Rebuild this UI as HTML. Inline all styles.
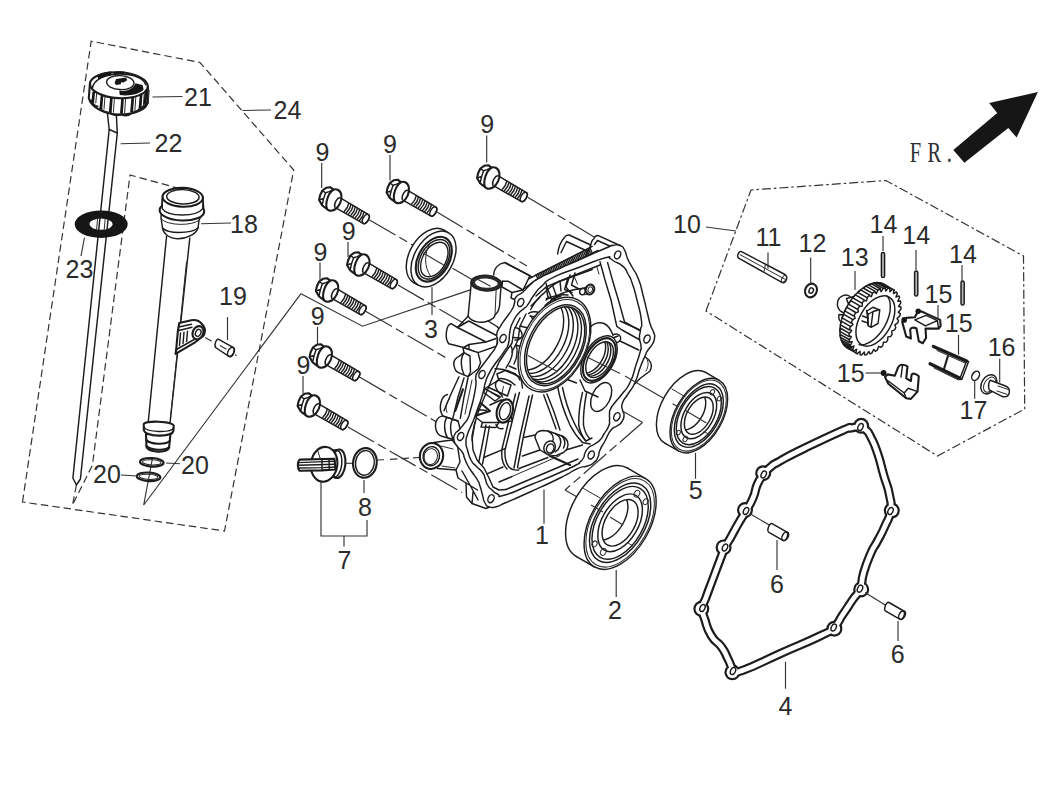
<!DOCTYPE html>
<html lang="en">
<head>
<meta charset="utf-8">
<title>Crankcase cover parts diagram</title>
<style>
html,body{margin:0;padding:0;background:#fff;}
body{width:1041px;height:791px;overflow:hidden;font-family:"Liberation Sans",sans-serif;}
svg{display:block;position:absolute;left:0;top:0;}
.p{fill:none;stroke:#1c1c1c;stroke-width:1.45;stroke-linecap:round;stroke-linejoin:round;}
.pw{fill:#fff;stroke:#1c1c1c;stroke-width:1.45;stroke-linecap:round;stroke-linejoin:round;}
.h{fill:none;stroke:#1c1c1c;stroke-width:2.1;stroke-linecap:round;stroke-linejoin:round;}
.hw{fill:#fff;stroke:#1c1c1c;stroke-width:2.1;stroke-linecap:round;stroke-linejoin:round;}
.f{fill:none;stroke:#2a2a2a;stroke-width:1.0;stroke-linecap:round;stroke-linejoin:round;}
.fw{fill:#fff;stroke:#2a2a2a;stroke-width:1.0;stroke-linecap:round;stroke-linejoin:round;}
.t{fill:none;stroke:#333;stroke-width:1.15;}
.d{fill:none;stroke:#333;stroke-width:1.2;stroke-dasharray:7.5 4;}
.dc{fill:none;stroke:#333;stroke-width:1.2;stroke-dasharray:30 4.5 9 4.5;}
.dd{fill:none;stroke:#333;stroke-width:1.2;stroke-dasharray:9 3 2.5 3;}
.k{fill:#161616;stroke:none;}
.w{fill:#fff;stroke:none;}
.n{font-family:"Liberation Sans",sans-serif;font-size:25px;fill:#2b2b2b;}
.fr{font-family:"Liberation Serif",serif;font-size:28.5px;fill:#2c2e36;}
</style>
</head>
<body>
<svg width="1041" height="791" viewBox="0 0 1041 791">
<path class="d" d="M22.5 502L91.2 41.2L200 62.5L293.7 170L224.5 531Z"/>
<path class="d" d="M180 188.7L130 175L92.4 465.2L72.6 504.7"/>
<path class="d" d="M76.4 485L72.6 504.7"/>
<path class="t" d="M152.5 458L143.7 505L301 293.7"/>
<path class="t" d="M301 293.7L362.5 326.2L471 289.6"/>
<path class="pw" d="M107.5 114L109.2 129.5L72.9 478L76.4 485L80.4 479L117.3 133L116.3 114"/>
<path class="p" d="M109.2 129.5L117.3 133"/>
<path class="k" fill-rule="evenodd" d="M74.7 224.2a26.5 13.7 0 1 0 53 0a26.5 13.7 0 1 0 -53 0ZM89.5 224.2a11.6 5.6 0 1 0 23.2 0a11.6 5.6 0 1 0 -23.2 0Z"/>
<path class="f" d="M105.2 219L104.2 229.5"/>
<path class="f" d="M97.5 219.5L96.6 229.5"/>
<path class="hw" d="M90 82.5 L88.8 98 C91 107.5 105 114.8 120.3 114.6 C134.5 114.3 146.5 109.5 147.6 102.5 L147.9 86.5"/>
<ellipse class="hw" cx="118.9" cy="85.2" rx="28.9" ry="12.9" transform="rotate(3 118.9 85.2)"/>
<path class="p" d="M92.5 87.5 C94 80 104 74.5 118 74 C133 73.6 144 78.5 145.5 84.5"/>
<path class="k" d="M92.5 91.5L95.1 91.8L94.0 103.7L91.2 103.3Z"/>
<path class="f" d="M96.8 92.3L95.8 103"/>
<path class="k" d="M100.7 95.6L103.3 95.9L102.2 109.8L99.4 109.4Z"/>
<path class="f" d="M105 96.4L104 109.1"/>
<path class="k" d="M110.1 97.6L112.7 97.9L111.6 113.0L108.8 112.6Z"/>
<path class="f" d="M114.4 98.4L113.4 112.3"/>
<path class="k" d="M121.3 98.0L123.9 98.3L122.8 114.0L120.0 113.6Z"/>
<path class="f" d="M125.6 98.8L124.6 113.3"/>
<path class="k" d="M131.5 96.6L134.1 96.9L133.0 112.4L130.2 112.0Z"/>
<path class="f" d="M135.8 97.4L134.8 111.7"/>
<path class="k" d="M139.9 93.6L142.5 93.9L141.4 108.8L138.6 108.4Z"/>
<path class="f" d="M144.2 94.4L143.2 108.1"/>
<path class="k" d="M144.9 89.5L147.5 89.8L146.4 104.2L143.6 103.8Z"/>
<path class="f" d="M149.2 90.3L148.2 103.5"/>
<path class="h" d="M91 100.5 C92.5 104.5 95.5 106 97.5 106.5 M100.3 108.5 C102 111 105.5 112 108 112.5 M110.5 113.3 C113 115.3 117.5 115.3 120 114.8 M122.3 114.8 C125 115.8 129 115 131 113.6 M133 112.8 C136 112 138.5 110.5 139.8 109 M141.5 107.8 C144 106.5 146 104.5 147 102.5"/>
<ellipse class="pw" cx="120.3" cy="82.6" rx="13.7" ry="7" transform="rotate(3 120.3 82.6)"/>
<path class="k" d="M114.6 82.8 L116.3 79 L126.2 77.6 L127.2 80.2 L123.5 82.4 L121.2 82.2 L120.7 84.2 L116 85Z"/>
<path class="k" d="M119.2 90.6 C126 92 133.5 89 135.5 83.2 L142.6 85 L143.6 89.5 C140 94.5 128 96.3 119.8 95Z"/>
<path class="k" d="M97.5 76.5 C101 73 108 71.2 112.3 71.6 L110.2 76 C106 76 101 77.5 98.5 79.5Z"/>
<path class="k" d="M113.4 71.8 C117 71 122.5 71 125 71.8 L123.5 74.2 C119.5 73.7 116 74 113.6 74.6Z"/>
<path class="pw" d="M166.6 236L148.2 422.5L170 423.5L189.8 238"/>
<path class="f" d="M186.5 262L170.8 415"/>
<path class="pw" d="M162.5 197.3 L161.4 210.7 L161 217.5 L162.5 228 C163 233 168 238 177.5 238.8 C187 239 196 234 198 228 L199 220.3 L203.8 210.7 L202.9 197.3Z"/>
<path class="p" d="M162.5 228 C168 234 190 234 198 228"/>
<path class="f" d="M161 219 C168 226 192 226 199 220.3"/>
<ellipse class="hw" cx="181.9" cy="210.9" rx="22.3" ry="9.6" transform="rotate(2 181.9 210.9)"/>
<path class="w" d="M162.2 198 L162.2 209 C168 217 196 217 202.8 209 L202.9 198Z"/>
<path class="p" d="M162.4 198 L162.2 208.6 C168 217.2 196 217.2 202.8 208.6 L202.9 198"/>
<ellipse class="hw" cx="182.7" cy="197.3" rx="20.2" ry="9.4" transform="rotate(2 182.7 197.3)"/>
<ellipse class="p" cx="182.9" cy="196.8" rx="16.2" ry="7.2" transform="rotate(2 182.9 196.8)"/>
<path class="hw" d="M179.3 323 L191.3 320.2 C196 319.5 200 321.5 201.9 324 C204.5 326.5 205.5 330 204.8 331.5 C204.3 335 203.3 336 202.4 336.5 L195.1 342.3 L175.5 353.8 L176.2 349.5 L177.9 330.7 L178.6 327Z"/>
<path class="p" d="M178.6 327 L191.5 324.3 M177.9 330.7 L192 327.2 M176.4 349.5 L194.2 339.5"/>
<path class="p" d="M180.5 333 L179.5 345.5 M184 332.2 L183 343.5 M187.5 331.3 L186.6 341.5"/>
<ellipse class="hw" cx="198" cy="332.7" rx="5.2" ry="6.8" transform="rotate(25 198 332.7)"/>
<ellipse class="p" cx="198.2" cy="332.9" rx="2.6" ry="3.6" transform="rotate(25 198.2 332.9)"/>
<path class="hw" d="M146 434 L146.5 447 C148 452.5 167 453.5 169 448 L170.5 434Z"/>
<path class="h" d="M146.3 440 C150 444.5 166 445 169.8 441"/>
<path class="h" d="M146.5 446 C150 450.5 166 451 169.3 447"/>
<path class="hw" d="M143.7 424.5 C143.7 420 173.7 421 173.7 426 L173.4 431 C172 437.5 146 437 143.9 430.5Z"/>
<path class="p" d="M143.9 427 C147 432.5 171 433 173.6 428"/>
<ellipse class="h" cx="151.8" cy="462.3" rx="11.8" ry="4.3" transform="rotate(3 151.8 462.3)"/>
<ellipse class="f" cx="151.8" cy="462.3" rx="9.3" ry="2.6" transform="rotate(3 151.8 462.3)"/>
<ellipse class="h" cx="148.6" cy="476.8" rx="11.8" ry="4.3" transform="rotate(3 148.6 476.8)"/>
<ellipse class="f" cx="148.6" cy="476.8" rx="9.3" ry="2.6" transform="rotate(3 148.6 476.8)"/>
<path class="d" d="M205.2 337.5L236.5 355.7"/>
<path class="pw" d="M218.7 339.4 L232.6 347.1 C236 349 233 357.5 229.3 356.7 L216.3 348 C213.5 346 216 338.5 218.7 339.4Z"/>
<ellipse class="p" cx="231" cy="351.8" rx="2.9" ry="4.9" transform="rotate(28 231 351.8)"/>
<path class="d" d="M220 345.5L229 350.6"/>
<path class="dc" d="M369.5 220L478 283"/>
<path class="dc" d="M437 212L527 266"/>
<path class="dc" d="M528 197.5L596 238"/>
<path class="dc" d="M398 285L470 327"/>
<path class="dc" d="M366 311.5L448 359"/>
<path class="dc" d="M359.5 377L440 424"/>
<path class="dc" d="M348 427L462 492.5"/>
<g transform="translate(0 0)"><path class="pw" d="M340.3 197.9L368.5 214.7C371 216.5 366.5 225 363.1 223.4L334.9 207.3Z"/><ellipse class="p" cx="365.8" cy="219" rx="2.8" ry="5" transform="rotate(30 365.8 219)"/><path class="p" d="M348.8 203.1C348.2 206.6 345.6 210.1 344.2 211.5M351.0 204.4C350.4 207.9 347.8 211.4 346.4 212.8M353.1 205.7C352.5 209.2 349.9 212.7 348.5 214.1M355.3 207.0C354.7 210.5 352.1 214.0 350.7 215.4M357.5 208.2C356.9 211.7 354.3 215.2 352.9 216.6M359.7 209.5C359.1 213.0 356.5 216.5 355.1 217.9M361.8 210.8C361.2 214.3 358.6 217.8 357.2 219.2M364.0 212.1C363.4 215.6 360.8 219.1 359.4 220.5"/><ellipse class="hw" cx="333.2" cy="200" rx="7.6" ry="11.3" transform="rotate(24 333.2 200)"/><path class="hw" d="M319.1 199.9L320.1 195.2L322.4 190.5L326.1 187.8L330.2 187.2L333.4 189.7C330 192 327.5 197 326.5 202C326 205 326.3 207 327 208.6L324.5 207.3L322.1 205.3Z"/><path class="p" d="M322.4 190.5L325.6 192.8L329.2 191.6L333.4 189.7M325.6 192.8L323.6 198.5L322.1 205.3M323.6 198.5L319.1 199.9"/><path class="p" d="M340.3 197.9C337.5 197 333.5 203.5 334.9 207.3"/></g>
<g transform="translate(67.5 -7.5)"><path class="pw" d="M340.3 197.9L368.5 214.7C371 216.5 366.5 225 363.1 223.4L334.9 207.3Z"/><ellipse class="p" cx="365.8" cy="219" rx="2.8" ry="5" transform="rotate(30 365.8 219)"/><path class="p" d="M348.8 203.1C348.2 206.6 345.6 210.1 344.2 211.5M351.0 204.4C350.4 207.9 347.8 211.4 346.4 212.8M353.1 205.7C352.5 209.2 349.9 212.7 348.5 214.1M355.3 207.0C354.7 210.5 352.1 214.0 350.7 215.4M357.5 208.2C356.9 211.7 354.3 215.2 352.9 216.6M359.7 209.5C359.1 213.0 356.5 216.5 355.1 217.9M361.8 210.8C361.2 214.3 358.6 217.8 357.2 219.2M364.0 212.1C363.4 215.6 360.8 219.1 359.4 220.5"/><ellipse class="hw" cx="333.2" cy="200" rx="7.6" ry="11.3" transform="rotate(24 333.2 200)"/><path class="hw" d="M319.1 199.9L320.1 195.2L322.4 190.5L326.1 187.8L330.2 187.2L333.4 189.7C330 192 327.5 197 326.5 202C326 205 326.3 207 327 208.6L324.5 207.3L322.1 205.3Z"/><path class="p" d="M322.4 190.5L325.6 192.8L329.2 191.6L333.4 189.7M325.6 192.8L323.6 198.5L322.1 205.3M323.6 198.5L319.1 199.9"/><path class="p" d="M340.3 197.9C337.5 197 333.5 203.5 334.9 207.3"/></g>
<g transform="translate(158 -22)"><path class="pw" d="M340.3 197.9L368.5 214.7C371 216.5 366.5 225 363.1 223.4L334.9 207.3Z"/><ellipse class="p" cx="365.8" cy="219" rx="2.8" ry="5" transform="rotate(30 365.8 219)"/><path class="p" d="M348.8 203.1C348.2 206.6 345.6 210.1 344.2 211.5M351.0 204.4C350.4 207.9 347.8 211.4 346.4 212.8M353.1 205.7C352.5 209.2 349.9 212.7 348.5 214.1M355.3 207.0C354.7 210.5 352.1 214.0 350.7 215.4M357.5 208.2C356.9 211.7 354.3 215.2 352.9 216.6M359.7 209.5C359.1 213.0 356.5 216.5 355.1 217.9M361.8 210.8C361.2 214.3 358.6 217.8 357.2 219.2M364.0 212.1C363.4 215.6 360.8 219.1 359.4 220.5"/><ellipse class="hw" cx="333.2" cy="200" rx="7.6" ry="11.3" transform="rotate(24 333.2 200)"/><path class="hw" d="M319.1 199.9L320.1 195.2L322.4 190.5L326.1 187.8L330.2 187.2L333.4 189.7C330 192 327.5 197 326.5 202C326 205 326.3 207 327 208.6L324.5 207.3L322.1 205.3Z"/><path class="p" d="M322.4 190.5L325.6 192.8L329.2 191.6L333.4 189.7M325.6 192.8L323.6 198.5L322.1 205.3M323.6 198.5L319.1 199.9"/><path class="p" d="M340.3 197.9C337.5 197 333.5 203.5 334.9 207.3"/></g>
<g transform="translate(28 65)"><path class="pw" d="M340.3 197.9L368.5 214.7C371 216.5 366.5 225 363.1 223.4L334.9 207.3Z"/><ellipse class="p" cx="365.8" cy="219" rx="2.8" ry="5" transform="rotate(30 365.8 219)"/><path class="p" d="M348.8 203.1C348.2 206.6 345.6 210.1 344.2 211.5M351.0 204.4C350.4 207.9 347.8 211.4 346.4 212.8M353.1 205.7C352.5 209.2 349.9 212.7 348.5 214.1M355.3 207.0C354.7 210.5 352.1 214.0 350.7 215.4M357.5 208.2C356.9 211.7 354.3 215.2 352.9 216.6M359.7 209.5C359.1 213.0 356.5 216.5 355.1 217.9M361.8 210.8C361.2 214.3 358.6 217.8 357.2 219.2M364.0 212.1C363.4 215.6 360.8 219.1 359.4 220.5"/><ellipse class="hw" cx="333.2" cy="200" rx="7.6" ry="11.3" transform="rotate(24 333.2 200)"/><path class="hw" d="M319.1 199.9L320.1 195.2L322.4 190.5L326.1 187.8L330.2 187.2L333.4 189.7C330 192 327.5 197 326.5 202C326 205 326.3 207 327 208.6L324.5 207.3L322.1 205.3Z"/><path class="p" d="M322.4 190.5L325.6 192.8L329.2 191.6L333.4 189.7M325.6 192.8L323.6 198.5L322.1 205.3M323.6 198.5L319.1 199.9"/><path class="p" d="M340.3 197.9C337.5 197 333.5 203.5 334.9 207.3"/></g>
<g transform="translate(-3.2 91)"><path class="pw" d="M340.3 197.9L368.5 214.7C371 216.5 366.5 225 363.1 223.4L334.9 207.3Z"/><ellipse class="p" cx="365.8" cy="219" rx="2.8" ry="5" transform="rotate(30 365.8 219)"/><path class="p" d="M348.8 203.1C348.2 206.6 345.6 210.1 344.2 211.5M351.0 204.4C350.4 207.9 347.8 211.4 346.4 212.8M353.1 205.7C352.5 209.2 349.9 212.7 348.5 214.1M355.3 207.0C354.7 210.5 352.1 214.0 350.7 215.4M357.5 208.2C356.9 211.7 354.3 215.2 352.9 216.6M359.7 209.5C359.1 213.0 356.5 216.5 355.1 217.9M361.8 210.8C361.2 214.3 358.6 217.8 357.2 219.2M364.0 212.1C363.4 215.6 360.8 219.1 359.4 220.5"/><ellipse class="hw" cx="333.2" cy="200" rx="7.6" ry="11.3" transform="rotate(24 333.2 200)"/><path class="hw" d="M319.1 199.9L320.1 195.2L322.4 190.5L326.1 187.8L330.2 187.2L333.4 189.7C330 192 327.5 197 326.5 202C326 205 326.3 207 327 208.6L324.5 207.3L322.1 205.3Z"/><path class="p" d="M322.4 190.5L325.6 192.8L329.2 191.6L333.4 189.7M325.6 192.8L323.6 198.5L322.1 205.3M323.6 198.5L319.1 199.9"/><path class="p" d="M340.3 197.9C337.5 197 333.5 203.5 334.9 207.3"/></g>
<g transform="translate(-9.5 157)"><path class="pw" d="M340.3 197.9L368.5 214.7C371 216.5 366.5 225 363.1 223.4L334.9 207.3Z"/><ellipse class="p" cx="365.8" cy="219" rx="2.8" ry="5" transform="rotate(30 365.8 219)"/><path class="p" d="M348.8 203.1C348.2 206.6 345.6 210.1 344.2 211.5M351.0 204.4C350.4 207.9 347.8 211.4 346.4 212.8M353.1 205.7C352.5 209.2 349.9 212.7 348.5 214.1M355.3 207.0C354.7 210.5 352.1 214.0 350.7 215.4M357.5 208.2C356.9 211.7 354.3 215.2 352.9 216.6M359.7 209.5C359.1 213.0 356.5 216.5 355.1 217.9M361.8 210.8C361.2 214.3 358.6 217.8 357.2 219.2M364.0 212.1C363.4 215.6 360.8 219.1 359.4 220.5"/><ellipse class="hw" cx="333.2" cy="200" rx="7.6" ry="11.3" transform="rotate(24 333.2 200)"/><path class="hw" d="M319.1 199.9L320.1 195.2L322.4 190.5L326.1 187.8L330.2 187.2L333.4 189.7C330 192 327.5 197 326.5 202C326 205 326.3 207 327 208.6L324.5 207.3L322.1 205.3Z"/><path class="p" d="M322.4 190.5L325.6 192.8L329.2 191.6L333.4 189.7M325.6 192.8L323.6 198.5L322.1 205.3M323.6 198.5L319.1 199.9"/><path class="p" d="M340.3 197.9C337.5 197 333.5 203.5 334.9 207.3"/></g>
<g transform="translate(-21.5 206)"><path class="pw" d="M340.3 197.9L368.5 214.7C371 216.5 366.5 225 363.1 223.4L334.9 207.3Z"/><ellipse class="p" cx="365.8" cy="219" rx="2.8" ry="5" transform="rotate(30 365.8 219)"/><path class="p" d="M348.8 203.1C348.2 206.6 345.6 210.1 344.2 211.5M351.0 204.4C350.4 207.9 347.8 211.4 346.4 212.8M353.1 205.7C352.5 209.2 349.9 212.7 348.5 214.1M355.3 207.0C354.7 210.5 352.1 214.0 350.7 215.4M357.5 208.2C356.9 211.7 354.3 215.2 352.9 216.6M359.7 209.5C359.1 213.0 356.5 216.5 355.1 217.9M361.8 210.8C361.2 214.3 358.6 217.8 357.2 219.2M364.0 212.1C363.4 215.6 360.8 219.1 359.4 220.5"/><ellipse class="hw" cx="333.2" cy="200" rx="7.6" ry="11.3" transform="rotate(24 333.2 200)"/><path class="hw" d="M319.1 199.9L320.1 195.2L322.4 190.5L326.1 187.8L330.2 187.2L333.4 189.7C330 192 327.5 197 326.5 202C326 205 326.3 207 327 208.6L324.5 207.3L322.1 205.3Z"/><path class="p" d="M322.4 190.5L325.6 192.8L329.2 191.6L333.4 189.7M325.6 192.8L323.6 198.5L322.1 205.3M323.6 198.5L319.1 199.9"/><path class="p" d="M340.3 197.9C337.5 197 333.5 203.5 334.9 207.3"/></g>
<ellipse class="pw" cx="428.8" cy="256.3" rx="19.3" ry="30.3" transform="rotate(30 428.8 256.3)"/>
<path class="p" d="M443.9 230.1L448.6 232.8"/>
<path class="p" d="M413.7 282.5L418.4 285.2"/>
<ellipse class="pw" cx="433.5" cy="259" rx="19.3" ry="30.3" transform="rotate(30 433.5 259)"/>
<ellipse class="h" cx="433.8" cy="259.2" rx="15.4" ry="24.2" transform="rotate(30 433.8 259.2)"/>
<ellipse class="p" cx="434" cy="259.3" rx="13.5" ry="21.5" transform="rotate(30 434 259.3)"/>
<ellipse class="p" cx="434.3" cy="259.5" rx="11.6" ry="18.8" transform="rotate(30 434.3 259.5)"/>
<path class="f" d="M430.0 243.5C424.0 253.0 424.0 267.0 430.5 276.0"/>
<path class="t" d="M423.5 253.2L444.5 265.4"/>
<ellipse class="hw" cx="338.2" cy="463.8" rx="7.2" ry="14.3" transform="rotate(6 338.2 463.8)"/>
<path class="p" d="M333 450 L338 449.6 M334 477.5 L338.5 478"/>
<ellipse class="p" cx="335.6" cy="463.8" rx="6.2" ry="13.4" transform="rotate(6 335.6 463.8)"/>
<ellipse class="hw" cx="324.1" cy="464.3" rx="13.2" ry="17.5" transform="rotate(8 324.1 464.3)"/>
<path class="f" d="M317.9 451.3 L320.7 460"/>
<path class="hw" d="M299.5 459.6 L334.5 458.8 L335.5 469.5 L322 470.4 L299.5 470.8 C297.3 468.5 297.3 462 299.5 459.6Z"/>
<path class="p" d="M299 462.6 L323 461.6 L335 461.2 M299 465.2 L335 464.2 M299 468 L323 467.6 L335 467"/>
<path class="p" d="M322 459 L322 470.4 M329 458.9 L329.3 470"/>
<path class="t" d="M345.7 463.3L353.4 463.3"/>
<ellipse class="h" cx="364.9" cy="462.9" rx="11.8" ry="14.9" transform="rotate(8 364.9 462.9)"/>
<ellipse class="p" cx="364.9" cy="462.9" rx="9.4" ry="12.4" transform="rotate(8 364.9 462.9)"/>
<path class="t" d="M377 460L384 459.8"/>
<path class="d" d="M390 459.4L420 457.5"/>
<path class="w" d="M514.5 303C515.8 298.8 513.2 300.7 516 297C518.8 293.3 518.3 296 523 292C527.7 288 524.9 289.4 530 285C535.1 280.6 530.7 283.2 538.4 278.7C546.1 274.2 539.1 277.9 553 271.5C566.9 265.1 562.3 267.3 580 259.5C597.7 251.7 595 252.7 606 248C617 243.3 608.3 246.3 613 245.5C617.7 244.7 616.2 244 620 245.5C623.8 247 622 245.6 624.5 250C627 254.4 625.1 253 627.6 258.7C630.1 264.4 628.4 260.3 632 267C635.6 273.7 634.6 269.4 638.3 278.7C642 288 639.9 283.2 643 295C646.1 306.8 645.1 304 647.6 314C650.1 324 648.5 318.8 650.5 325C652.5 331.2 652.4 328.2 653.7 332.5C655 336.8 655 334 654.5 338C654 342 654.4 340.5 652.2 344.5C650 348.5 650.4 346.2 648 350C645.6 353.8 647.7 350 645 356C642.3 362 643.3 359.2 640 368C636.7 376.8 639 373.8 635 382.5C631 391.2 632.2 387.2 628 394C623.8 400.8 624.3 397.7 622.5 403C620.7 408.3 622 406 622.5 410C623 414 624.2 411.2 624 415C623.8 418.8 624.3 417.8 622 421.5C619.7 425.2 620.7 423.2 617 426C613.3 428.8 615 425 611 430C607 435 608.7 434.3 605 441C601.3 447.7 602.3 444.7 600 450C597.7 455.3 600 452.8 598 457C596 461.2 597.5 459.5 594 462.5C590.5 465.5 593 463.9 587.5 466C582 468.1 586.7 464.7 577.5 468.7C568.3 472.7 575.8 470.2 560 478C544.2 485.8 548.3 483.7 530 492C511.7 500.3 516 498.2 505 503C494 507.8 502.2 505.2 497 506.5C491.8 507.8 493.5 508.2 489.5 507C485.5 505.8 487.3 507 485 503C482.7 499 484.2 500.7 482.5 495C480.8 489.3 481.7 491 480 486C478.3 481 480.2 484.7 477.5 480C474.8 475.3 475.3 477 472 472C468.7 467 470 469.7 467.5 465C465 460.3 466.2 462.2 464.5 458C462.8 453.8 465 456.5 462.5 452.5C460 448.5 459.8 450.2 457 446C454.2 441.8 454.7 444 454 440C453.3 436 453.3 437.3 455 434C456.7 430.7 456.2 433.2 459 430C461.8 426.8 460.5 428.4 463.5 424.5C466.5 420.6 465.6 423.2 467.9 418.4C470.2 413.6 468.8 415.9 470.5 410C472.2 404.1 471.5 407 473 400.7C474.5 394.4 474 396.9 475 391C476 385.1 475.7 387.7 476 383C476.3 378.3 475.1 380.8 475.8 377C476.5 373.2 475.1 376.3 478 371.6C480.9 366.9 480.1 368.7 484.4 362.8C488.7 356.9 487.1 359.4 491 354C494.9 348.6 493.8 351.2 496 346.5C498.2 341.8 497.2 344.2 497.5 340C497.8 335.8 496 338.3 496.8 334C497.6 329.7 496.9 332.3 500 327C503.1 321.7 502 323.8 506 318C510 312.2 509.2 314.5 512 309.5C514.8 304.5 513.2 307.2 514.5 303Z"/>
<path class="pw" d="M471.2 283.7L468.1 316.2C472 322.5 481.2 323.5 488 321C493 319 495 317 495 315C499 312 500 305 500 300L501.2 283.7Z"/>
<ellipse class="hw" cx="486.2" cy="283.1" rx="15" ry="7.5" transform="rotate(3 486.2 283.1)"/>
<ellipse cx="486.3" cy="283.2" rx="12.9" ry="6.1" transform="rotate(3 486.3 283.2)" fill="#fff" stroke="#2a2a2a" stroke-width="3"/>
<path class="t" d="M477.5 279.2L490.5 286.2"/>
<path class="f" d="M476.5 286.5C480 290 492 290.5 496.5 287"/>
<path class="f" d="M496.2 288.7L495 315"/>
<path class="p" d="M468.1 316.2L463.5 321L457.5 327.5"/>
<path class="p" d="M488 321L497 326.5L500 330"/>
<path class="pw" d="M493.7 275C494 268 498.7 263.5 505 262.5L530 275.6L523 290L508 281.2L502.5 281.2"/>
<path class="p" d="M502.5 281.2L502 287L512 292.5L523 290M512 292.5L511 298L517 300.5"/>
<path class="pw" d="M451 323.7C446 325 444.5 338 448.7 343.7L463.7 347.5L478 352.6L497 346L497.5 336L468.7 321L457.5 327.5Z"/>
<path class="p" d="M457.5 327.5L486 342M463.7 347.5L469 344.5M469 344.5L486 342L496 338.5M469 344.5L469 350"/>
<path class="pw" d="M462.9 347.6L478 352.6L480.6 362.8L478 369L468 376.7L464 352.6Z"/>
<path class="pw" d="M464 352.6L459 356.4C455 358 453 362 454 365.3C454.5 369 456.5 372 459 372.9L468 376.7L470.5 372L470 356Z"/>
<path class="p" d="M463.5 354C460.5 358 460.5 368 464 374.5"/>
<path class="p" d="M459 376.7L451 394L444 410.8M464 378L458 397L452.8 418.4M468 378L464 397L460.3 418.4"/>
<path class="h" d="M462.9 389.3L455.3 410.8"/>
<path class="f" d="M472 380L468.5 397L465 414"/>
<path class="p" d="M447.5 394.5C441 396 438 408 442.5 415.5"/>
<path class="f" d="M449.5 399C446 402 445 408 447 412.5"/>
<path class="pw" d="M442.6 415.9C438 416.5 435 421 435.5 427C436 432 438.5 435.5 442.5 436.5L456 440L461 432L458 421Z"/>
<path class="p" d="M442.6 415.9L458 421M447 417.5C444 421 443.5 431 447.5 437.8M452.5 419.3C450 423 449.8 432.5 453 439.2"/>
<path class="pw" d="M433.7 442.5L452 440L457.5 446L460 462L456 470L437.5 468.5Z"/>
<ellipse class="hw" cx="431.5" cy="456" rx="11.6" ry="13" transform="rotate(12 431.5 456)"/>
<ellipse class="p" cx="431.3" cy="456.2" rx="8.2" ry="9.6" transform="rotate(12 431.3 456.2)"/>
<ellipse class="f" cx="430.8" cy="456.6" rx="6.6" ry="8" transform="rotate(12 430.8 456.6)"/>
<path class="f" d="M441 446L453 449M442 466L455 468"/>
<path class="p" d="M456 470L458 478L466 483L466.5 497L472 503.5L486 508.5L489.5 507"/>
<path class="p" d="M466 483L477.5 490M472 503.5L473 492M462 471L470 485L478 500"/>
<path class="p" d="M643.7 356L648.5 359.5C652 363 652 368 650 371L640 378.5L635 383.7"/>
<path class="f" d="M646.5 358C649 362 648.5 367 646 371"/>
<path class="pw" d="M557.6 254C558.5 247 562 240 564.6 237.2C566 235 568 234.8 569.2 235L590.7 245L586 256"/>
<path class="p" d="M561 252.5L566.5 241.5L588 251.5"/>
<path class="pw" d="M590.7 245C591.5 241 592.5 239.5 593.8 238.8C595 236 597 235.4 598.4 235.7L620 245.5L612 250"/>
<path class="p" d="M594.5 244.5L597.5 240.5L613 247.5"/>
<path class="p" d="M506 263.4L532.3 277.2M529.2 278.7L592.2 246.4M523 289.5L535 280.5L598 250.5"/>
<path class="p" d="M536.0 274.6L537.9 278.8M537.6 273.8L539.5 278.0M539.3 273.0L541.2 277.2M540.9 272.2L542.8 276.4M542.5 271.4L544.4 275.6M544.2 270.6L546.1 274.8M545.8 269.8L547.7 274.0M547.5 269.0L549.4 273.2M549.1 268.2L551.0 272.4M550.7 267.3L552.6 271.5M552.4 266.5L554.3 270.7M554.0 265.7L555.9 269.9M555.6 264.9L557.5 269.1M557.3 264.1L559.2 268.3M558.9 263.3L560.8 267.5M560.5 262.5L562.4 266.7M562.2 261.7L564.1 265.9M563.8 260.9L565.7 265.1M565.5 260.1L567.4 264.3M567.1 259.3L569.0 263.5M568.7 258.5L570.6 262.7M570.4 257.7L572.3 261.9M572.0 256.9L573.9 261.1M573.6 256.1L575.5 260.3M575.3 255.3L577.2 259.5M576.9 254.4L578.8 258.6M578.5 253.6L580.4 257.8M580.2 252.8L582.1 257.0M581.8 252.0L583.7 256.2M583.5 251.2L585.4 255.4M585.1 250.4L587.0 254.6M586.7 249.6L588.6 253.8M588.4 248.8L590.3 253.0M590.0 248.0L591.9 252.2"/>
<path class="pw" fill-rule="evenodd" d="M514.5 303C515.8 298.8 513.2 300.7 516 297C518.8 293.3 518.3 296 523 292C527.7 288 524.9 289.4 530 285C535.1 280.6 530.7 283.2 538.4 278.7C546.1 274.2 539.1 277.9 553 271.5C566.9 265.1 562.3 267.3 580 259.5C597.7 251.7 595 252.7 606 248C617 243.3 608.3 246.3 613 245.5C617.7 244.7 616.2 244 620 245.5C623.8 247 622 245.6 624.5 250C627 254.4 625.1 253 627.6 258.7C630.1 264.4 628.4 260.3 632 267C635.6 273.7 634.6 269.4 638.3 278.7C642 288 639.9 283.2 643 295C646.1 306.8 645.1 304 647.6 314C650.1 324 648.5 318.8 650.5 325C652.5 331.2 652.4 328.2 653.7 332.5C655 336.8 655 334 654.5 338C654 342 654.4 340.5 652.2 344.5C650 348.5 650.4 346.2 648 350C645.6 353.8 647.7 350 645 356C642.3 362 643.3 359.2 640 368C636.7 376.8 639 373.8 635 382.5C631 391.2 632.2 387.2 628 394C623.8 400.8 624.3 397.7 622.5 403C620.7 408.3 622 406 622.5 410C623 414 624.2 411.2 624 415C623.8 418.8 624.3 417.8 622 421.5C619.7 425.2 620.7 423.2 617 426C613.3 428.8 615 425 611 430C607 435 608.7 434.3 605 441C601.3 447.7 602.3 444.7 600 450C597.7 455.3 600 452.8 598 457C596 461.2 597.5 459.5 594 462.5C590.5 465.5 593 463.9 587.5 466C582 468.1 586.7 464.7 577.5 468.7C568.3 472.7 575.8 470.2 560 478C544.2 485.8 548.3 483.7 530 492C511.7 500.3 516 498.2 505 503C494 507.8 502.2 505.2 497 506.5C491.8 507.8 493.5 508.2 489.5 507C485.5 505.8 487.3 507 485 503C482.7 499 484.2 500.7 482.5 495C480.8 489.3 481.7 491 480 486C478.3 481 480.2 484.7 477.5 480C474.8 475.3 475.3 477 472 472C468.7 467 470 469.7 467.5 465C465 460.3 466.2 462.2 464.5 458C462.8 453.8 465 456.5 462.5 452.5C460 448.5 459.8 450.2 457 446C454.2 441.8 454.7 444 454 440C453.3 436 453.3 437.3 455 434C456.7 430.7 456.2 433.2 459 430C461.8 426.8 460.5 428.4 463.5 424.5C466.5 420.6 465.6 423.2 467.9 418.4C470.2 413.6 468.8 415.9 470.5 410C472.2 404.1 471.5 407 473 400.7C474.5 394.4 474 396.9 475 391C476 385.1 475.7 387.7 476 383C476.3 378.3 475.1 380.8 475.8 377C476.5 373.2 475.1 376.3 478 371.6C480.9 366.9 480.1 368.7 484.4 362.8C488.7 356.9 487.1 359.4 491 354C494.9 348.6 493.8 351.2 496 346.5C498.2 341.8 497.2 344.2 497.5 340C497.8 335.8 496 338.3 496.8 334C497.6 329.7 496.9 332.3 500 327C503.1 321.7 502 323.8 506 318C510 312.2 509.2 314.5 512 309.5C514.8 304.5 513.2 307.2 514.5 303Z M527.7 304.9C531 300.4 529.4 301.2 534 295C538.6 288.8 534.9 292.3 541.5 286.4C548.1 280.5 541 283.7 553.8 277.2C566.6 270.7 563.1 273.4 580 267C596.9 260.6 594.5 260.8 604.5 258C614.5 255.2 606.9 257.5 610 258.5C613.1 259.5 609.4 258.4 613.7 261C618 263.6 618.2 262.1 623 266.4C627.8 270.7 624.9 268.4 628 274C631.1 279.6 629.2 274.6 632.2 283.3C635.2 292 633.9 287.7 637 300C640.1 312.3 640.2 310.2 641.4 320.2C642.6 330.2 641.1 324.1 640.5 330C639.9 335.9 639.3 332.7 639.5 338C639.7 343.3 640.8 341.2 641 346C641.2 350.8 641.7 346.2 640 352.5C638.3 358.8 639.3 355 636 365C632.7 375 634.7 372.8 630 382.5C625.3 392.2 627 387.3 622 394C617 400.7 618.8 397.5 615 402.5C611.2 407.5 612.3 405.2 610.5 409C608.7 412.8 609.8 410.3 609.5 414C609.2 417.7 609.8 416 609.5 420C609.2 424 610.5 421.3 608.7 426C606.9 430.7 606.9 429.3 604 434C601.1 438.7 603.3 436.5 600 440C596.7 443.5 597.8 442 594 444.5C590.2 447 591.7 444.7 588.7 447.5C585.7 450.3 586.7 449.7 585 453C583.3 456.3 585.4 454.5 583.7 457.5C582 460.5 582.6 459.5 580 462C577.4 464.5 582.7 461.5 576 465C569.3 468.5 575.3 465.8 560 472.5C544.7 479.2 548.3 477.5 530 485C511.7 492.5 515.8 492 505 495C494.2 498 501.8 495.7 497.5 494C493.2 492.3 495.3 493 492 490C488.7 487 489.8 489 487.5 485C485.2 481 486.7 482.2 485 478C483.3 473.8 485.5 476.5 482.5 472.5C479.5 468.5 479.8 470.2 476 466C472.2 461.8 473.8 465.3 471 460C468.2 454.7 469.2 455.8 467.5 450C465.8 444.2 466.1 447.5 466 442.5C465.9 437.5 465.8 440.2 467.3 435C468.8 429.8 468.2 432.5 470.5 427C472.8 421.5 471.9 424.4 474.2 418.4C476.5 412.4 475.4 414.9 477.5 409C479.6 403.1 478.6 406.7 480.6 400.7C482.6 394.7 481.8 397.3 483.5 391C485.2 384.7 483.6 387.7 485.6 381.7C487.6 375.7 486.3 378.8 489.4 372.9C492.5 367 491.2 369.5 495 364C498.8 358.5 497.5 361.1 500.8 356.4C504.1 351.7 502.5 354.2 505 350C507.5 345.8 506.7 350.1 508.4 343.8C510.1 337.5 508.5 338.3 510 331C511.5 323.7 510.3 327.7 513 322C515.7 316.3 514.3 318.5 518 314C521.7 309.5 520.8 311.5 524 308.5C527.2 305.5 524.4 309.4 527.7 304.9Z"/>
<ellipse class="p" cx="520.7" cy="302.5" rx="2.9" ry="4.2" transform="rotate(25 520.7 302.5)"/>
<ellipse class="p" cx="503" cy="338.5" rx="2.9" ry="4.2" transform="rotate(25 503 338.5)"/>
<ellipse class="p" cx="482" cy="374.5" rx="2.9" ry="4.2" transform="rotate(25 482 374.5)"/>
<ellipse class="p" cx="460.6" cy="436.5" rx="2.9" ry="4.2" transform="rotate(25 460.6 436.5)"/>
<ellipse class="p" cx="491" cy="498.7" rx="2.9" ry="4.2" transform="rotate(25 491 498.7)"/>
<ellipse class="p" cx="591.2" cy="455" rx="2.9" ry="4.2" transform="rotate(25 591.2 455)"/>
<ellipse class="p" cx="616.9" cy="416.7" rx="2.9" ry="4.2" transform="rotate(25 616.9 416.7)"/>
<ellipse class="p" cx="647" cy="339" rx="2.9" ry="4.2" transform="rotate(25 647 339)"/>
<ellipse class="p" cx="617.6" cy="254.9" rx="2.9" ry="4.2" transform="rotate(25 617.6 254.9)"/>
<clipPath id="cin"><path d="M527.7 304.9C531 300.4 529.4 301.2 534 295C538.6 288.8 534.9 292.3 541.5 286.4C548.1 280.5 541 283.7 553.8 277.2C566.6 270.7 563.1 273.4 580 267C596.9 260.6 594.5 260.8 604.5 258C614.5 255.2 606.9 257.5 610 258.5C613.1 259.5 609.4 258.4 613.7 261C618 263.6 618.2 262.1 623 266.4C627.8 270.7 624.9 268.4 628 274C631.1 279.6 629.2 274.6 632.2 283.3C635.2 292 633.9 287.7 637 300C640.1 312.3 640.2 310.2 641.4 320.2C642.6 330.2 641.1 324.1 640.5 330C639.9 335.9 639.3 332.7 639.5 338C639.7 343.3 640.8 341.2 641 346C641.2 350.8 641.7 346.2 640 352.5C638.3 358.8 639.3 355 636 365C632.7 375 634.7 372.8 630 382.5C625.3 392.2 627 387.3 622 394C617 400.7 618.8 397.5 615 402.5C611.2 407.5 612.3 405.2 610.5 409C608.7 412.8 609.8 410.3 609.5 414C609.2 417.7 609.8 416 609.5 420C609.2 424 610.5 421.3 608.7 426C606.9 430.7 606.9 429.3 604 434C601.1 438.7 603.3 436.5 600 440C596.7 443.5 597.8 442 594 444.5C590.2 447 591.7 444.7 588.7 447.5C585.7 450.3 586.7 449.7 585 453C583.3 456.3 585.4 454.5 583.7 457.5C582 460.5 582.6 459.5 580 462C577.4 464.5 582.7 461.5 576 465C569.3 468.5 575.3 465.8 560 472.5C544.7 479.2 548.3 477.5 530 485C511.7 492.5 515.8 492 505 495C494.2 498 501.8 495.7 497.5 494C493.2 492.3 495.3 493 492 490C488.7 487 489.8 489 487.5 485C485.2 481 486.7 482.2 485 478C483.3 473.8 485.5 476.5 482.5 472.5C479.5 468.5 479.8 470.2 476 466C472.2 461.8 473.8 465.3 471 460C468.2 454.7 469.2 455.8 467.5 450C465.8 444.2 466.1 447.5 466 442.5C465.9 437.5 465.8 440.2 467.3 435C468.8 429.8 468.2 432.5 470.5 427C472.8 421.5 471.9 424.4 474.2 418.4C476.5 412.4 475.4 414.9 477.5 409C479.6 403.1 478.6 406.7 480.6 400.7C482.6 394.7 481.8 397.3 483.5 391C485.2 384.7 483.6 387.7 485.6 381.7C487.6 375.7 486.3 378.8 489.4 372.9C492.5 367 491.2 369.5 495 364C498.8 358.5 497.5 361.1 500.8 356.4C504.1 351.7 502.5 354.2 505 350C507.5 345.8 506.7 350.1 508.4 343.8C510.1 337.5 508.5 338.3 510 331C511.5 323.7 510.3 327.7 513 322C515.7 316.3 514.3 318.5 518 314C521.7 309.5 520.8 311.5 524 308.5C527.2 305.5 524.4 309.4 527.7 304.9Z"/></clipPath>
<g clip-path="url(#cin)">
<path class="p" d="M600 261.8L605 280L611 300L616.8 326.4M607.6 262.6L613 282L619 302L624.5 321.8L643 332.5M616.8 326.4L622 330L640 340"/>
<path class="p" d="M620 321L640 330M620 341L638.7 350"/>
<path class="p" d="M530.7 309.5C535 301 540 296 544.6 292.6C549 288 553 284.5 558.4 281.8L592.2 269.5"/>
<path class="p" d="M546 283.5L548.5 291L551 297L546.5 298.5M567.6 278.7L564.6 289.5L572.2 292.6M553 286.5L556.5 296"/>
<path class="p" d="M550.7 300.2C558 294 570 289.5 586 288M545 305.5C551 300 556 297.5 561 296"/>
<path class="f" d="M574 276L577.5 284M597 267.5L599 274"/>
<path class="p" d="M536 296L546 287L560 281L600 265M531 306L540 297M546 287L548 297L556 300M560 281L561 291"/>
<path class="p" d="M520 318L514 330L512 343L505 353L499 362L494 374L489 386L484 398L479 410L474.5 424L472 436L473 450L477 460L484 468L489 478L493 487L499 490L506 489.5"/>
<path class="p" d="M526 314L520 326L518 340L512 352M516 345L524 348L527 343M520 326L528 328L534 322L531 316"/>
<path class="p" d="M483.7 457.5L505 448.7M523.7 437.5L535 435M522.5 456L540 450M557.5 452.5L582.5 445M487.5 473.7L503 467M519 468.5L548 457.5M506 489.5L578 459M499 482L512 476.5"/>
<path class="h" d="M550 456L570 465"/>
<path class="f" d="M512 476.5L560 455.5"/>
<path class="p" d="M519.4 392.5L512 422L505 450C504.5 458 506 463 508.5 466.5C511 469.5 515 470.5 518.7 470"/>
<path class="p" d="M515.5 394L508.5 422L502 449C501 458 503 465 507 469"/>
<path class="p" d="M532.5 395L523.7 435L517.5 467.5M529 396L520.5 434L514 468"/>
<path class="p" d="M543.7 395L550 412L556 428.7M547 394L554 412L560 430"/>
<path class="p" d="M557.5 386C560 400 565 414 570 425C574 433 578 438 582.5 442.5M562.5 387.5C565 400 569 412 574 422.5C578 431 582 437 586 441"/>
<path class="p" d="M582.5 392.5C580 403 578.5 414 578.7 425C580 432 582 436 585 440M586.5 393C584.5 404 583 415 583.5 425C584.5 431 586.5 435 589.5 438.5"/>
<path class="p" d="M582.5 442.5L590 444M586 441L592 438"/>
<path class="p" d="M486 425L482 446L478.7 462.5M489.5 426L486 446L482.5 464M475 422.5L472 440"/>
<path class="pw" d="M535 437.5C535.5 432.5 539 430.5 543 430.5L548 431L562 436C567.5 438.5 569.5 444 567 449L563.5 452.5L556.5 455.5L550 456L540 450Z"/>
<path class="p" d="M548 431C552.5 433.5 554.5 438 552.5 442.5M555.5 433.6C560 436.5 562 441 560 446C559 449 557 451 555 452M562 436C565 439.5 565.5 444 563.5 448"/>
<ellipse class="pw" cx="549.6" cy="447.6" rx="5.6" ry="6.8" transform="rotate(22 549.6 447.6)"/>
<ellipse class="p" cx="550.2" cy="448.4" rx="3.6" ry="4.6" transform="rotate(22 550.2 448.4)"/>
<path class="pw" d="M490 405L501 400L510 400.5L512 421L498.7 422.5L482.5 422.5L476 417.5"/>
<path class="h" d="M480 402.5L490 411L475 416Z"/>
<path class="p" d="M477 409.5L486.5 410.5M482.5 422.5L481 427L496 427.5L498.7 422.5"/>
<ellipse class="hw" cx="504.8" cy="411" rx="7.8" ry="11.9" transform="rotate(16 504.8 411)"/>
<ellipse class="p" cx="505" cy="411.2" rx="5.2" ry="8.8" transform="rotate(16 505 411.2)"/>
<path class="p" d="M496 424.5C497 428 500 429.5 503 428.5"/>
<path class="p" d="M485 388.5L498.7 380L511 385L507.5 396L488.7 387.5M498.7 380L497 374L505 370.5L514 374"/>
<path class="f" d="M491 392L503 397.5M503.5 386.5L502 393"/>
<path class="p" d="M514 374L521 378L522.5 388M509 366L516 369"/>
<path class="p" d="M495 368.7C500 368.5 508 370 515 373.7C518 376 519.5 378 520 380M498.7 378.7C503 378 509 379.5 515 385"/>
<path class="p" d="M498.7 380C495.5 381.5 495 385 496 388C497.5 391.5 500 394 502.5 396"/>
<path class="p" d="M485 388.7L500 397.5L495 401L483.7 392.5Z"/>
<path class="p" d="M515 327.5C518.5 328 521 330 522 333.5C523 337 520 340.5 515 340M512.5 337.5L521 338"/>
<path class="p" d="M511 346C513 350 512.5 356 510 361L506 368M516 345C518 351 517 358 514 364"/>
<ellipse class="p" cx="601.2" cy="397" rx="9" ry="15.5" transform="rotate(26 601.2 397)"/>
<path class="p" d="M530 316C535 317.5 538 316 539.5 313C536 311 531 311.5 528.5 313.5"/>
<ellipse class="hw" cx="590" cy="289.5" rx="4.2" ry="5" transform="rotate(20 590 289.5)"/>
<ellipse class="f" cx="590.3" cy="289.7" rx="2.2" ry="2.9" transform="rotate(20 590.3 289.7)"/>
<ellipse class="p" cx="582.5" cy="291.5" rx="2.7" ry="3.3" transform="rotate(20 582.5 291.5)"/>
<path class="f" d="M583 288.5L589 285M584 294.7L590 294.4"/>
<path class="p" d="M570 275L566 287L573 296M575 273L571.5 285L579 289"/>
<path class="p" d="M546 300C551 296 560 294 568 295"/>
<path class="p" d="M588 332C590 325 597 321 604 323.5C609 325.5 611 330 613 335"/>
<path class="p" d="M613 335C616 333 619.5 334 620.5 337C621.5 340 619 343 615.5 342.5M611.5 338.5L618 336"/>
<ellipse class="pw" cx="599" cy="359.3" rx="14.9" ry="25.8" transform="rotate(30 599 359.3)"/>
<ellipse class="h" cx="599.3" cy="359.5" rx="13.4" ry="23.3" transform="rotate(30 599.3 359.5)"/>
<ellipse class="p" cx="599.6" cy="359.7" rx="11.3" ry="19.6" transform="rotate(30 599.6 359.7)"/>
<clipPath id="sb"><ellipse cx="599.6" cy="359.7" rx="11.3" ry="19.6" transform="rotate(30 599.6 359.7)"/></clipPath>
<g clip-path="url(#sb)">
<ellipse class="p" cx="597" cy="358.2" rx="11.3" ry="19.6" transform="rotate(30 597 358.2)"/>
<ellipse class="p" cx="594.4" cy="356.7" rx="11.3" ry="19.6" transform="rotate(30 594.4 356.7)"/>
<ellipse class="p" cx="591.8" cy="355.2" rx="11.3" ry="19.6" transform="rotate(30 591.8 355.2)"/>
</g>
<path class="p" d="M580 380L585 391L598 397M576.5 383L566 379"/>
<ellipse class="pw" cx="554.4" cy="344.6" rx="31.8" ry="50.5" transform="rotate(27 554.4 344.6)"/>
<ellipse class="f" cx="554.8" cy="344.8" rx="30.4" ry="48.3" transform="rotate(27 554.8 344.8)"/>
<ellipse class="p" cx="555.4" cy="345.2" rx="26.8" ry="43.2" transform="rotate(27 555.4 345.2)"/>
<ellipse class="p" cx="555.6" cy="345.3" rx="25.1" ry="41.2" transform="rotate(27 555.6 345.3)"/>
<clipPath id="mb"><ellipse cx="555.6" cy="345.3" rx="25.1" ry="41.2" transform="rotate(27 555.6 345.3)"/></clipPath>
<g clip-path="url(#mb)">
<ellipse class="p" cx="552.3" cy="343.4" rx="25.1" ry="41.2" transform="rotate(27 552.3 343.4)"/>
<ellipse class="p" cx="549" cy="341.5" rx="24.9" ry="40.8" transform="rotate(27 549 341.5)"/>
<ellipse class="p" cx="545" cy="339.2" rx="24.4" ry="40" transform="rotate(27 545 339.2)"/>
<ellipse class="p" cx="541.1" cy="336.9" rx="23.9" ry="39.1" transform="rotate(27 541.1 336.9)"/>
<ellipse class="p" cx="536.5" cy="334.3" rx="23.4" ry="38.3" transform="rotate(27 536.5 334.3)"/>
</g>
</g>
<path class="t" d="M527.8 355.5L557.3 371.5"/>
<path class="t" d="M585.4 356.3L620 373.5"/>
<path class="t" d="M625 376L667.5 400.5"/>
<path class="t" d="M622.5 411L642.5 422.5"/>
<path class="dc" d="M642.5 422.5L565 490"/>
<path class="t" d="M565 490L591 505"/>
<ellipse class="pw" cx="685.2" cy="407.8" rx="23.5" ry="40.8" transform="rotate(30 685.2 407.8)"/>
<path class="w" d="M705.6 372.4L719.2 380.3L678.4 450.9L664.8 443.1Z"/>
<path class="p" d="M705.6 372.4L719.2 380.3"/>
<path class="p" d="M664.8 443.1L678.4 450.9"/>
<ellipse class="pw" cx="698.8" cy="415.6" rx="23.5" ry="40.8" transform="rotate(30 698.8 415.6)"/>
<ellipse class="f" cx="698.8" cy="415.6" rx="22.4" ry="38.8" transform="rotate(30 698.8 415.6)"/>
<ellipse class="p" cx="698.8" cy="415.6" rx="20" ry="34.7" transform="rotate(30 698.8 415.6)"/>
<ellipse class="p" cx="698.8" cy="415.6" rx="18.4" ry="31.8" transform="rotate(30 698.8 415.6)"/>
<ellipse class="p" cx="698.8" cy="415.6" rx="14.6" ry="25.3" transform="rotate(30 698.8 415.6)"/>
<ellipse class="p" cx="698.8" cy="415.6" rx="11.8" ry="20.4" transform="rotate(30 698.8 415.6)"/>
<clipPath id="bc698"><ellipse cx="698.8" cy="415.6" rx="11.8" ry="20.4" transform="rotate(30 698.8 415.6)"/></clipPath>
<g clip-path="url(#bc698)"><ellipse class="p" cx="691.3" cy="411.3" rx="11.8" ry="20.4" transform="rotate(30 691.3 411.3)"/></g>
<ellipse class="f" cx="712.3" cy="392.3" rx="2" ry="2.9" transform="rotate(30 712.3 392.3)"/>
<ellipse class="f" cx="719.2" cy="398.7" rx="1.8" ry="2.4" transform="rotate(30 719.2 398.7)"/>
<ellipse class="f" cx="685.3" cy="438.9" rx="2" ry="2.9" transform="rotate(30 685.3 438.9)"/>
<ellipse class="f" cx="678.4" cy="432.5" rx="1.8" ry="2.4" transform="rotate(30 678.4 432.5)"/>
<path class="f" d="M672 389L685 396.7"/>
<path class="t" d="M672.6 403.7L677.5 406.5"/>
<path class="t" d="M685.5 410.5L706.4 423"/>
<path class="f" d="M704 431.5L709.5 434.7"/>
<ellipse class="pw" cx="601.6" cy="512.1" rx="29.4" ry="51" transform="rotate(30 601.6 512.1)"/>
<path class="w" d="M627.1 467.9L645.6 478.6L594.6 567L576.1 556.3Z"/>
<path class="p" d="M627.1 467.9L645.6 478.6"/>
<path class="p" d="M576.1 556.3L594.6 567"/>
<ellipse class="pw" cx="620.1" cy="522.8" rx="29.4" ry="51" transform="rotate(30 620.1 522.8)"/>
<ellipse class="f" cx="620.1" cy="522.8" rx="28" ry="48.4" transform="rotate(30 620.1 522.8)"/>
<ellipse class="p" cx="620.1" cy="522.8" rx="25" ry="43.4" transform="rotate(30 620.1 522.8)"/>
<ellipse class="p" cx="620.1" cy="522.8" rx="23" ry="39.8" transform="rotate(30 620.1 522.8)"/>
<ellipse class="p" cx="620.1" cy="522.8" rx="18.2" ry="31.6" transform="rotate(30 620.1 522.8)"/>
<ellipse class="p" cx="620.1" cy="522.8" rx="14.7" ry="25.5" transform="rotate(30 620.1 522.8)"/>
<clipPath id="bc620"><ellipse cx="620.1" cy="522.8" rx="14.7" ry="25.5" transform="rotate(30 620.1 522.8)"/></clipPath>
<g clip-path="url(#bc620)"><ellipse class="p" cx="609.9" cy="516.9" rx="14.7" ry="25.5" transform="rotate(30 609.9 516.9)"/></g>
<ellipse class="f" cx="636.9" cy="493.7" rx="2.6" ry="3.6" transform="rotate(30 636.9 493.7)"/>
<ellipse class="f" cx="645.6" cy="501.7" rx="2.3" ry="3.1" transform="rotate(30 645.6 501.7)"/>
<ellipse class="f" cx="603.3" cy="551.9" rx="2.6" ry="3.6" transform="rotate(30 603.3 551.9)"/>
<ellipse class="f" cx="594.6" cy="543.9" rx="2.3" ry="3.1" transform="rotate(30 594.6 543.9)"/>
<path class="f" d="M583.5 488.5L600 498"/>
<path class="t" d="M591 505L603 512"/>
<path class="t" d="M610 517L623 525"/>
<path class="f" d="M628 543L633 546"/>
<path d="M860.5 427C856 426.4 856.4 426.9 851 428C845.6 429.1 856.3 424.5 842.5 430.5C828.7 436.5 823.8 438.9 805 448C786.2 457.1 790.5 455.1 780 461C769.5 466.9 774.9 463.4 770 467.5C765.1 471.6 767.5 469.6 763.7 474.5C760 479.4 760.7 476.9 757.5 484C754.3 491.1 756.5 489.9 753 498C749.5 506.1 750.3 503.5 746 511C741.7 518.5 743.2 515.2 738.7 523C734.2 530.8 735.1 529.6 731 537C726.9 544.4 728.3 540.6 725 547.5C721.7 554.4 723.8 550.2 720 560C716.2 569.8 716.7 568.8 712.5 580C708.3 591.2 709 589.1 706 597.5C703 605.9 702.8 601.2 702.5 608C702.2 614.8 702.3 611.6 705 620C707.7 628.4 706.5 627.9 711.5 636C716.5 644.1 716.7 640.4 721.5 647C726.3 653.6 724.6 652.3 727.5 658C730.4 663.7 729.4 662.1 731 666C732.6 669.9 728.8 670 733 671C737.2 672 730.9 674.7 745 669.5C759.1 664.3 757.5 663.8 780 653.7C802.5 643.7 803.9 643.9 820 636C836.1 628.1 827 633.8 833.7 627.5C840.5 621.2 836.9 623.2 842.5 615C848.1 606.8 847.2 607.9 852.5 600C857.8 592.1 856.6 597 860 588.7C863.4 580.5 860.6 582.9 863.7 572.5C866.9 562.1 866.4 563.5 870.5 554C874.6 544.5 873.1 549.4 877.5 541C881.9 532.6 881.1 535 885 526C888.9 517 889.1 520.3 890.5 511C891.9 501.7 891.5 505.8 889.5 495C887.5 484.2 887.3 487.6 883.7 475C880.1 462.4 881.3 464.2 877.5 453C873.7 441.8 874.5 444.4 871 437.5C867.5 430.6 869.1 433.1 866 430C862.9 426.9 865 427.6 860.5 427Z" fill="none" stroke="#1c1c1c" stroke-width="9.2" stroke-linejoin="round"/>
<circle cx="861.2" cy="425.8" r="8" fill="#1c1c1c"/>
<circle cx="763.2" cy="473.2" r="8" fill="#1c1c1c"/>
<circle cx="745" cy="510.1" r="8" fill="#1c1c1c"/>
<circle cx="723.6" cy="547.4" r="8" fill="#1c1c1c"/>
<circle cx="701.3" cy="608.8" r="8" fill="#1c1c1c"/>
<circle cx="732.4" cy="672.3" r="8" fill="#1c1c1c"/>
<circle cx="834.4" cy="628.7" r="8" fill="#1c1c1c"/>
<circle cx="861.2" cy="589.4" r="8" fill="#1c1c1c"/>
<circle cx="891.8" cy="510.5" r="8" fill="#1c1c1c"/>
<path d="M860.5 427C856 426.4 856.4 426.9 851 428C845.6 429.1 856.3 424.5 842.5 430.5C828.7 436.5 823.8 438.9 805 448C786.2 457.1 790.5 455.1 780 461C769.5 466.9 774.9 463.4 770 467.5C765.1 471.6 767.5 469.6 763.7 474.5C760 479.4 760.7 476.9 757.5 484C754.3 491.1 756.5 489.9 753 498C749.5 506.1 750.3 503.5 746 511C741.7 518.5 743.2 515.2 738.7 523C734.2 530.8 735.1 529.6 731 537C726.9 544.4 728.3 540.6 725 547.5C721.7 554.4 723.8 550.2 720 560C716.2 569.8 716.7 568.8 712.5 580C708.3 591.2 709 589.1 706 597.5C703 605.9 702.8 601.2 702.5 608C702.2 614.8 702.3 611.6 705 620C707.7 628.4 706.5 627.9 711.5 636C716.5 644.1 716.7 640.4 721.5 647C726.3 653.6 724.6 652.3 727.5 658C730.4 663.7 729.4 662.1 731 666C732.6 669.9 728.8 670 733 671C737.2 672 730.9 674.7 745 669.5C759.1 664.3 757.5 663.8 780 653.7C802.5 643.7 803.9 643.9 820 636C836.1 628.1 827 633.8 833.7 627.5C840.5 621.2 836.9 623.2 842.5 615C848.1 606.8 847.2 607.9 852.5 600C857.8 592.1 856.6 597 860 588.7C863.4 580.5 860.6 582.9 863.7 572.5C866.9 562.1 866.4 563.5 870.5 554C874.6 544.5 873.1 549.4 877.5 541C881.9 532.6 881.1 535 885 526C888.9 517 889.1 520.3 890.5 511C891.9 501.7 891.5 505.8 889.5 495C887.5 484.2 887.3 487.6 883.7 475C880.1 462.4 881.3 464.2 877.5 453C873.7 441.8 874.5 444.4 871 437.5C867.5 430.6 869.1 433.1 866 430C862.9 426.9 865 427.6 860.5 427Z" fill="none" stroke="#fff" stroke-width="4.8" stroke-linejoin="round"/>
<circle cx="861.2" cy="425.8" r="5.8" fill="#fff"/>
<circle cx="763.2" cy="473.2" r="5.8" fill="#fff"/>
<circle cx="745" cy="510.1" r="5.8" fill="#fff"/>
<circle cx="723.6" cy="547.4" r="5.8" fill="#fff"/>
<circle cx="701.3" cy="608.8" r="5.8" fill="#fff"/>
<circle cx="732.4" cy="672.3" r="5.8" fill="#fff"/>
<circle cx="834.4" cy="628.7" r="5.8" fill="#fff"/>
<circle cx="861.2" cy="589.4" r="5.8" fill="#fff"/>
<circle cx="891.8" cy="510.5" r="5.8" fill="#fff"/>
<ellipse class="p" cx="860.5" cy="427" rx="2.4" ry="3.7" transform="rotate(25 860.5 427)"/>
<ellipse class="p" cx="763.7" cy="474.5" rx="2.4" ry="3.7" transform="rotate(25 763.7 474.5)"/>
<ellipse class="p" cx="746" cy="511" rx="2.4" ry="3.7" transform="rotate(25 746 511)"/>
<ellipse class="p" cx="725" cy="547.5" rx="2.4" ry="3.7" transform="rotate(25 725 547.5)"/>
<ellipse class="p" cx="702.5" cy="608" rx="2.4" ry="3.7" transform="rotate(25 702.5 608)"/>
<ellipse class="p" cx="733" cy="671" rx="2.4" ry="3.7" transform="rotate(25 733 671)"/>
<ellipse class="p" cx="833.7" cy="627.5" rx="2.4" ry="3.7" transform="rotate(25 833.7 627.5)"/>
<ellipse class="p" cx="860" cy="588.7" rx="2.4" ry="3.7" transform="rotate(25 860 588.7)"/>
<ellipse class="p" cx="890.5" cy="511" rx="2.4" ry="3.7" transform="rotate(25 890.5 511)"/>
<path class="t" d="M750 513.7L771 526"/>
<path class="pw" d="M772.1 523.7L786.1 531.7C789.5 533.7 786.3 542.2 782.9 540.3L768.9 532.3C766.3 530.7 769.5 522.3 772.1 523.7Z"/>
<ellipse class="p" cx="785.3" cy="536.3" rx="2.9" ry="4.7" transform="rotate(30 785.3 536.3)"/>
<path class="t" d="M865 592.5L886 605.5"/>
<path class="pw" d="M888.9 602.5L902.9 610.5C906.3 612.5 903.1 621.0 899.7 619.1L885.7 611.1C883.1 609.5 886.3 601.1 888.9 602.5Z"/>
<ellipse class="p" cx="902.1" cy="615.1" rx="2.9" ry="4.7" transform="rotate(30 902.1 615.1)"/>
<path class="dd" d="M706 311L751 190L886 180.5L1023.5 256L1024.7 409L937.5 456Z"/>
<path class="pw" d="M741.5 251.6 L785 274.5 C788.5 277 786 283.5 782.3 282.6 L738.6 258.2 C736.5 256 738.5 250.8 741.5 251.6Z"/>
<path class="f" d="M740 254.6L784.5 279"/>
<path class="f" d="M765.5 264.2 L764 271.5"/>
<ellipse class="f" cx="784" cy="278.8" rx="2" ry="3.8" transform="rotate(30 784 278.8)"/>
<ellipse class="hw" cx="811" cy="290.5" rx="5.8" ry="7" transform="rotate(25 811 290.5)"/>
<ellipse class="p" cx="811.2" cy="290.6" rx="2.1" ry="2.8" transform="rotate(25 811.2 290.6)"/>
<rect class="pw" style="fill:#b5b5b5" x="881.4" y="252.5" width="3.2" height="25" rx="1.6"/>
<rect class="pw" style="fill:#b5b5b5" x="914.6" y="271" width="3.2" height="25" rx="1.6"/>
<rect class="pw" style="fill:#b5b5b5" x="961" y="281" width="3.2" height="24" rx="1.6"/>
<path class="pw" d="M850 296.5 C846 293.5 839.5 295.5 837.8 301 C836.5 306 838.5 310.5 842 312 L852 316"/>
<path class="pw" d="M839 314.5 C838 318 839.5 322 843 323.5 L848 325.5 L848 315Z"/>
<path class="p" d="M846.5 298.5 L853 296.8 L853.5 301.5 L848 303Z"/>
<ellipse class="pw" cx="865.9" cy="316.2" rx="21.2" ry="36.8" transform="rotate(30 865.9 316.2)"/>
<path class="w" d="M884.3 284.4L893.4 289.6L856.6 353.4L847.5 348.1Z"/>
<path class="p" d="M892.4 289.1L883.3 283.8M894.4 290.3L885.3 285.0M883.3 283.8L885.3 285.0M857.6 353.9L848.5 348.7M855.6 352.7L846.5 347.5M848.5 348.7L846.5 347.5M854.0 351.4L844.9 346.1M852.4 349.5L843.3 344.2M844.9 346.1L843.3 344.2M851.3 347.5L842.2 342.3M850.2 345.0L841.1 339.8M842.2 342.3L841.1 339.8M849.6 342.5L840.5 337.3M849.1 339.5L840.0 334.3M840.5 337.3L840.0 334.3M849.0 336.6L839.9 331.4M849.1 333.2L840.0 328.0M839.9 331.4L840.0 328.0M849.5 330.0L840.4 324.8M850.3 326.4L841.2 321.2M840.4 324.8L841.2 321.2M851.2 323.1L842.1 317.8M852.5 319.4L843.4 314.2M842.1 317.8L843.4 314.2M853.9 316.1L844.8 310.8M855.7 312.5L846.6 307.2M844.8 310.8L846.6 307.2M857.5 309.3L848.5 304.1M859.8 305.9L850.7 300.7M848.5 304.1L850.7 300.7M861.9 303.1L852.8 297.8M864.5 300.1L855.4 294.8M852.8 297.8L855.4 294.8M866.9 297.6L857.8 292.4M869.7 295.2L860.6 289.9M857.8 292.4L860.6 289.9M872.2 293.2L863.1 288.0M875.1 291.4L866.0 286.2M863.1 288.0L866.0 286.2M877.7 290.1L868.6 284.8M880.5 289.0L871.4 283.7M868.6 284.8L871.4 283.7M883.0 288.3L873.9 283.0M885.7 287.9L876.6 282.7M873.9 283.0L876.6 282.7M888.0 288.0L878.9 282.7M890.4 288.4L881.3 283.1M878.9 282.7L881.3 283.1"/>
<path class="pw" d="M889.9 291.7L892.7 289.3L894 290L893.4 293.7L896.3 291.9L897.3 293.2L896 297L898.9 295.9L899.6 297.5L897.8 301.3L900.5 301L900.8 302.9L898.6 306.5L901 307L900.9 309.2L898.3 312.3L900.3 313.6L899.9 315.9L897 318.5L898.6 320.6L897.7 322.9L894.8 324.9L895.8 327.6L894.6 329.9L891.7 331.1L892.1 334.3L890.6 336.5L887.9 336.9L887.6 340.5L886 342.4L883.5 342.1L882.6 345.8L880.8 347.4L878.7 346.3L877.3 350.1L875.4 351.3L873.8 349.4L871.8 353.1L870 353.9L868.9 351.4L866.5 354.8L864.8 355L864.3 352L861.6 355L860.1 354.7L860.1 351.3L857.3 353.7L856 353L856.6 349.3L853.7 351.1L852.7 349.8L854 346L851.1 347.1L850.4 345.5L852.2 341.7L849.5 342L849.2 340.1L851.4 336.5L849 336L849.1 333.8L851.7 330.7L849.7 329.4L850.1 327.1L853 324.5L851.4 322.4L852.3 320.1L855.2 318.1L854.2 315.4L855.4 313.1L858.3 311.9L857.9 308.7L859.4 306.5L862.1 306.1L862.4 302.5L864 300.6L866.5 300.9L867.4 297.2L869.2 295.6L871.3 296.7L872.7 292.9L874.6 291.7L876.2 293.6L878.2 289.9L880 289.1L881.1 291.6L883.5 288.2L885.2 288L885.7 291L888.4 288L889.9 288.3Z"/>
<ellipse class="p" cx="875.4" cy="321" rx="15.9" ry="27.6" transform="rotate(30 875.4 321)"/>
<clipPath id="gc"><ellipse cx="875" cy="321.5" rx="16.6" ry="28.8" transform="rotate(30 875 321.5)"/></clipPath>
<g clip-path="url(#gc)"><ellipse class="p" cx="870" cy="318.6" rx="16.6" ry="28.8" transform="rotate(30 870 318.6)"/></g>
<path class="pw" d="M866.8 311 L872.8 307.3 L879.8 310 L878 323.5 L871.5 327.2 L868.4 326Z"/>
<path class="p" d="M868 314.5 L873 311.5 L879.4 309.8 M873 311.5 L871 326.9 M866.5 310.5 L868 314.5 L868 325.5"/>
<path class="p" d="M862.5 316 L868 318 M862 321 L868 323"/>
<path class="hw" d="M902.2 321.9 L906.2 336.5 L910.9 338.5 L910.2 329.9 C910.5 327.5 913.5 327 916.5 328.5 L918.8 341.2 L922.8 343.2 L926.1 337.8 L925.5 328.6 L938.7 328.6 L940.7 325.9 L940.1 319.9 L924.1 312.6 L918.5 310.5 L914.8 317.3 L906.2 317.9Z"/>
<path class="p" d="M914.8 319.9 L926.1 315.3 L937.4 320.6 L925.5 325.9Z M937.4 320.6 L938.5 328"/>
<circle class="k" cx="904.2" cy="319.9" r="2.8"/><circle class="k" cx="918.2" cy="311.3" r="2.7"/>
<path d="M933.4 346.5L966.6 361.1M930.1 363.7L960 378.4" fill="none" stroke="#1c1c1c" stroke-width="3.4" stroke-linecap="round"/>
<path class="p" d="M966.6 361.1 L960 378.4 M968.6 361.5 L961.8 379.5"/>
<path class="h" d="M948 355.8 L944 369"/>
<path class="f" d="M937 350.5 L965 363 M934 368 L958.5 380"/>
<path class="hw" d="M887.6 374.4 L894.9 375.7 L898.2 367.1 C899.5 364.5 903 363.8 907.5 366.4 L906.2 378.4 L910.9 381 L911.5 375 C912.5 373 916 373 918.8 376.4 L917.5 391.6 L910.9 398.9 L906.2 398.3 L888.3 383.7 L885 377Z"/>
<path class="p" d="M888.3 381 L904.2 393 L908.2 388.3 L917.5 391.6 M904.2 393 L906.2 398.3 M902.5 365.5 L901 377"/>
<circle class="k" cx="883.6" cy="373" r="2.9"/>
<ellipse class="p" cx="975.6" cy="375.8" rx="3.4" ry="5" transform="rotate(32 975.6 375.8)"/>
<ellipse class="pw" cx="988.8" cy="384.3" rx="7.2" ry="10.3" transform="rotate(30 988.8 384.3)"/>
<ellipse class="f" cx="989.6" cy="384.7" rx="5.2" ry="8.2" transform="rotate(30 989.6 384.7)"/>
<path class="pw" d="M990.3 380.3 L1005.5 386 C1011.5 388.5 1010.5 397.5 1003 396.8 L989.2 389.8 C988 387 988.5 382 990.3 380.3Z"/>
<path class="f" d="M997 391 L1007 394.3 M998 386 L1008.5 389.6"/>
<path class="t" d="M152.5 97L182.5 96.5"/>
<path class="t" d="M242.5 110.5L271 110"/>
<path class="t" d="M120.7 143.7L150 143"/>
<path class="t" d="M84.5 237.5L81 256"/>
<path class="t" d="M201 223.7L231 223"/>
<path class="t" d="M227.5 317L227.5 340"/>
<path class="t" d="M166 463L180 463.7"/>
<path class="t" d="M121 475L137.5 476"/>
<path class="t" d="M321.7 163L321.7 188"/>
<path class="t" d="M390 155L390 180.5"/>
<path class="t" d="M486.7 135.5L486.7 162.5"/>
<path class="t" d="M348 242L348 257"/>
<path class="t" d="M320 262.5L320 282.5"/>
<path class="t" d="M317.5 327L317.5 345"/>
<path class="t" d="M303 376L303 393.7"/>
<path class="t" d="M432 287L432 315"/>
<path class="t" d="M364 480L364 493"/>
<path class="t" d="M544 489.5L544 523.7"/>
<path class="t" d="M616.2 570L616.2 597"/>
<path class="t" d="M695.5 453L695.5 478.7"/>
<path class="t" d="M777 540L777 570"/>
<path class="t" d="M898 621L898 641"/>
<path class="t" d="M785.5 661.7L785.5 688.7"/>
<path class="t" d="M706 227L736 231"/>
<path class="t" d="M768 252.5L768 268.7"/>
<path class="t" d="M810.7 257.5L810.7 283.7"/>
<path class="t" d="M855 271L855 290"/>
<path class="t" d="M883 236L883 251"/>
<path class="t" d="M916 250L916 270"/>
<path class="t" d="M962 265L962 281"/>
<path class="t" d="M938 305L938 318.7"/>
<path class="t" d="M958.5 335L958.5 354.5"/>
<path class="t" d="M865.5 373L881 373"/>
<path class="t" d="M999.7 358.7L999.7 382.5"/>
<path class="t" d="M974.7 380L974.7 398.7"/>
<path class="t" d="M321 481.7L321 536L367 536L367 520"/>
<path class="t" d="M344 536L344 546.5"/>
<text class="n" x="198" y="106.2" text-anchor="middle">21</text>
<text class="n" x="287.4" y="118.7" text-anchor="middle">24</text>
<text class="n" x="168.5" y="152" text-anchor="middle">22</text>
<text class="n" x="79.4" y="278" text-anchor="middle">23</text>
<text class="n" x="244" y="232.5" text-anchor="middle">18</text>
<text class="n" x="233" y="305" text-anchor="middle">19</text>
<text class="n" x="194.9" y="473.7" text-anchor="middle">20</text>
<text class="n" x="106.9" y="483" text-anchor="middle">20</text>
<text class="n" x="322.4" y="161" text-anchor="middle">9</text>
<text class="n" x="390" y="152.5" text-anchor="middle">9</text>
<text class="n" x="487.2" y="133" text-anchor="middle">9</text>
<text class="n" x="348.7" y="240" text-anchor="middle">9</text>
<text class="n" x="320.4" y="260.5" text-anchor="middle">9</text>
<text class="n" x="317.7" y="325" text-anchor="middle">9</text>
<text class="n" x="303.4" y="373.7" text-anchor="middle">9</text>
<text class="n" x="431" y="337.5" text-anchor="middle">3</text>
<text class="n" x="364.9" y="516" text-anchor="middle">8</text>
<text class="n" x="344.5" y="569" text-anchor="middle">7</text>
<text class="n" x="541.9" y="544" text-anchor="middle">1</text>
<text class="n" x="615" y="619" text-anchor="middle">2</text>
<text class="n" x="695.7" y="499" text-anchor="middle">5</text>
<text class="n" x="777" y="592.5" text-anchor="middle">6</text>
<text class="n" x="897.7" y="662.5" text-anchor="middle">6</text>
<text class="n" x="785.4" y="715" text-anchor="middle">4</text>
<text class="n" x="687" y="232.5" text-anchor="middle">10</text>
<text class="n" x="768.5" y="246" text-anchor="middle">11</text>
<text class="n" x="812.5" y="252" text-anchor="middle">12</text>
<text class="n" x="854.7" y="265.5" text-anchor="middle">13</text>
<text class="n" x="883.5" y="233" text-anchor="middle">14</text>
<text class="n" x="916.2" y="243.7" text-anchor="middle">14</text>
<text class="n" x="963" y="262.5" text-anchor="middle">14</text>
<text class="n" x="938.5" y="303" text-anchor="middle">15</text>
<text class="n" x="958.7" y="331.7" text-anchor="middle">15</text>
<text class="n" x="850.7" y="381.7" text-anchor="middle">15</text>
<text class="n" x="1001.6" y="356" text-anchor="middle">16</text>
<text class="n" x="973.5" y="419" text-anchor="middle">17</text>
<text class="fr" transform="translate(0 161.6) scale(0.72 1)" x="1263.5 1288.3 1315">FR.</text>
<path class="k" d="M1037.9 91.9L989.2 103L997.2 113.1L953.3 149.9L964.4 162.7L1008.3 128.1L1016.6 137.5Z"/>
</svg>
</body>
</html>
